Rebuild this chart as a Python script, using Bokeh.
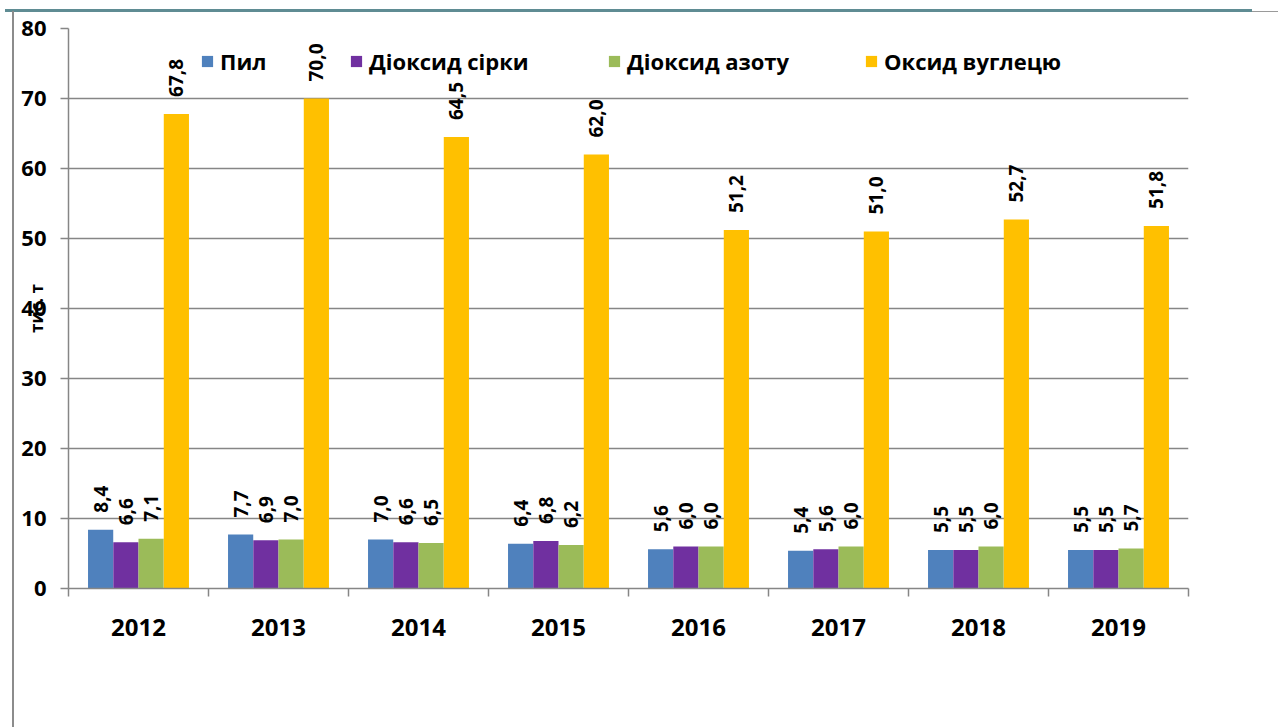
from math import pi
from bokeh.plotting import figure
from bokeh.models import ColumnDataSource, FixedTicker, Legend, LegendItem, Div
from bokeh.layouts import column
from bokeh.transform import dodge
from bokeh.core.properties import value
from bokeh.embed import file_html
from bokeh.resources import INLINE

years = ["2012", "2013", "2014", "2015", "2016", "2017", "2018", "2019"]
dust = [8.4, 7.7, 7.0, 6.4, 5.6, 5.4, 5.5, 5.5]
so2 = [6.6, 6.9, 6.6, 6.8, 6.0, 5.6, 5.5, 5.5]
no2 = [7.1, 7.0, 6.5, 6.2, 6.0, 6.0, 6.0, 5.7]
co = [67.8, 70.0, 64.5, 62.0, 51.2, 51.0, 52.7, 51.8]
series_names = ["Пил", "Діоксид сірки", "Діоксид азоту", "Оксид вуглецю"]
colors = ["#4F81BD", "#7030A0", "#9BBB59", "#FFC000"]
y_ticks = [0, 10, 20, 30, 40, 50, 60, 70, 80]

FONT = "Open Sans"
xs = [i + 0.5 for i in range(len(years))]

def fmt(v):
    return f"{v:.1f}".replace(".", ",")

src = ColumnDataSource(dict(
    x=xs, years=years,
    s0=dust, s1=so2, s2=no2, s3=co,
    l0=[fmt(v) for v in dust], l1=[fmt(v) for v in so2],
    l2=[fmt(v) for v in no2], l3=[fmt(v) for v in co],
))

p = figure(width=1262, height=711, x_range=(0, len(years)), y_range=(0, 80),
           output_backend="svg", toolbar_location=None,
           min_border_left=68, min_border_right=74, min_border_top=28,
           min_border_bottom=123)
p.outline_line_color = None
p.background_fill_color = "white"
p.border_fill_color = "white"

offsets = [-0.2705, -0.090, 0.090, 0.2705]
bw = 0.18
renderers = []
for k in range(4):
    r = p.vbar(x=dodge("x", offsets[k], range=p.x_range), top=f"s{k}", width=bw,
               bottom=0, source=src, fill_color=colors[k], line_color=None)
    renderers.append(r)
    p.text(x=dodge("x", offsets[k], range=p.x_range), y=f"s{k}", text=f"l{k}",
           source=src, angle=pi / 2, text_align="left", text_baseline="middle",
           y_offset=-17, text_font=value(FONT), text_font_style="bold",
           text_font_size="19px", text_color="black")

# x axis
p.xaxis.ticker = FixedTicker(ticks=xs, minor_ticks=list(range(len(years) + 1)))
p.xaxis.major_label_overrides = {x: y for x, y in zip(xs, years)}
p.xaxis.major_tick_out = 0
p.xaxis.major_tick_in = 0
p.xaxis.minor_tick_out = 8
p.xaxis.minor_tick_in = 0
p.xaxis.minor_tick_line_color = "#868686"
p.xaxis.minor_tick_line_width = 1.5
p.xaxis.axis_line_color = "#868686"
p.xaxis.axis_line_width = 1.5
p.xaxis.major_label_standoff = 22
p.xaxis.major_label_text_font = FONT
p.xaxis.major_label_text_font_style = "bold"
p.xaxis.major_label_text_font_size = "24px"
p.xaxis.major_label_text_color = "black"
p.xgrid.grid_line_color = None

# y axis
p.yaxis.ticker = FixedTicker(ticks=y_ticks)
p.yaxis.minor_tick_line_color = None
p.yaxis.major_tick_out = 8
p.yaxis.major_tick_in = 0
p.yaxis.major_tick_line_color = "#868686"
p.yaxis.major_tick_line_width = 1.5
p.yaxis.axis_line_color = "#868686"
p.yaxis.axis_line_width = 1.5
p.yaxis.major_label_standoff = 14
p.yaxis.major_label_text_font = FONT
p.yaxis.major_label_text_font_style = "bold"
p.yaxis.major_label_text_font_size = "22px"
p.yaxis.major_label_text_color = "black"
p.yaxis.axis_label = "тис. т"
p.yaxis.axis_label_text_font = FONT
p.yaxis.axis_label_text_font_style = "bold"
p.yaxis.axis_label_text_font_size = "17px"
p.yaxis.axis_label_text_color = "black"
p.yaxis.axis_label_standoff = -30
p.ygrid.grid_line_color = "#868686"
p.ygrid.grid_line_width = 1.5

# legends (one per item to reproduce the uneven spacing)
leg_x = [132, 281, 539, 796]
for k in range(4):
    leg = Legend(items=[LegendItem(label=series_names[k], renderers=[renderers[k]])],
                 location=(leg_x[k], 512), orientation="horizontal",
                 border_line_color=None, background_fill_alpha=0,
                 padding=0, margin=0, spacing=0,
                 glyph_width=14, glyph_height=14, label_height=20,
                 label_standoff=6, label_text_font=FONT,
                 label_text_font_style="bold", label_text_font_size="22px",
                 label_text_color="black")
    p.add_layout(leg, "center")

# slide decorations (lines of the surrounding slide)
deco = Div(width=1, height=1, text=(
    '<div style="position:fixed;left:5px;top:9px;width:1247px;height:3px;'
    'background:#5F8C93"></div>'
    '<div style="position:fixed;left:1252px;top:11px;width:26px;height:1px;'
    'background:#9A9A9A"></div>'
    '<div style="position:fixed;left:12px;top:11px;width:2px;height:716px;'
    'background:#8C8C8C"></div>'))

layout = column(p, deco, spacing=0)
open("out.html", "w").write(file_html(layout, INLINE))
